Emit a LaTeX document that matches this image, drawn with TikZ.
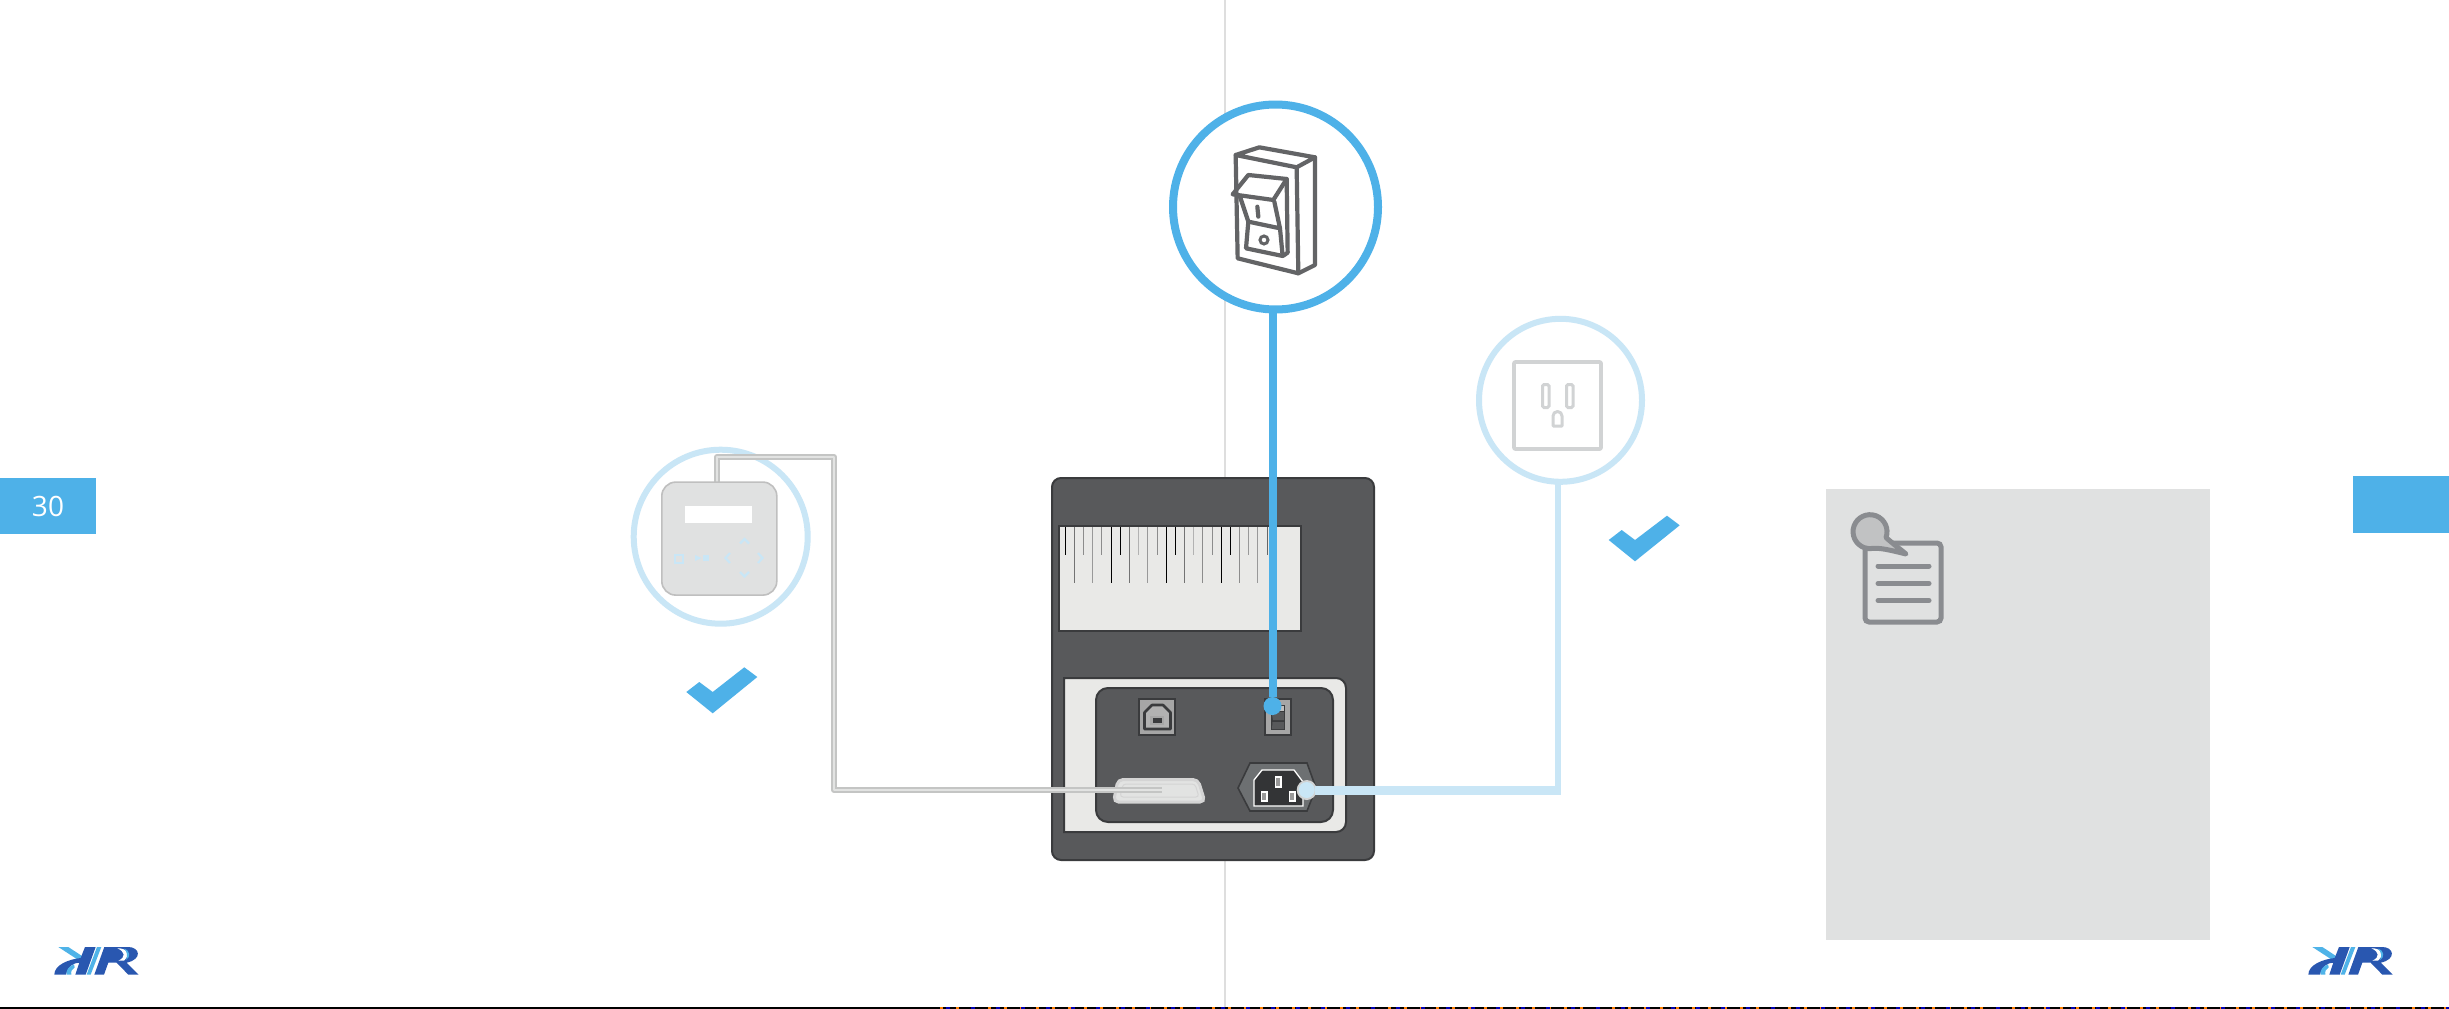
\documentclass[tikz,border=0pt]{standalone}
\usepackage{fontspec}
\setmainfont{Open Sans}
\definecolor{blu}{HTML}{4EB1E8}
\definecolor{lblu}{HTML}{C9E6F6}
\definecolor{body}{HTML}{58595B}
\definecolor{edge}{HTML}{3A3B3D}
\definecolor{pale}{HTML}{E9E9E7}
\definecolor{wireo}{HTML}{C4C5C4}
\definecolor{wirei}{HTML}{E2E3E2}
\definecolor{icon}{HTML}{636466}
\definecolor{out}{HTML}{D1D3D4}
\definecolor{notegr}{HTML}{E0E1E1}
\definecolor{notei}{HTML}{8A8C90}
\definecolor{ldark}{HTML}{2957B0}
\definecolor{llight}{HTML}{4FB3E8}
\definecolor{hexg}{HTML}{6D7072}
\definecolor{sock}{HTML}{333436}
\tikzset{
  ring/.style={circle,fill=white,inner sep=0pt,outer sep=0pt},
  plate/.style={draw=edge,line width=2pt},
  tabbox/.style={fill=blu,inner sep=0pt,outer sep=0pt,anchor=north west},
  tick/.style={line width=1pt},
  chev/.style={draw=lblu,line width=2.2pt},
  swline/.style={draw=icon,line width=4.2pt,line join=round,line cap=round},
  outl/.style={draw=out,line width=3.6pt,line join=round},
  notel/.style={draw=notei,line width=5pt,line cap=round},
}
\newcommand{\hklogo}[1]{%
\begin{scope}[shift={(#1,920)},x=0.3333pt,y=-0.3333pt]
  \fill[llight] (175,81) -- (205,81) -- (252,112) -- (238,122) -- cycle;
  \fill[llight] (291,81) -- (304,81) -- (272,164) -- (260,164) -- cycle;
  \fill[ldark] (255,81) -- (287,81) -- (257,164) -- (226,164) -- (238,128) .. controls (220,128) and (203,140) .. (198,164) -- (163,164) .. controls (163,135) and (205,118) .. (242,114) -- cycle;
  \fill[llight] (222,133) .. controls (205,140) and (197,152) .. (200,164) -- (214,164) .. controls (212,154) and (216,146) .. (224,142) -- cycle;
  \fill[ldark] (313,81) -- (385,81) .. controls (420,81) and (428,118) .. (380,128) -- (416,164) -- (385,164) -- (350,128) -- (325,128) -- (312,164) -- (283,164) -- cycle;
  \fill[white] (352,85) .. controls (378,84) and (396,100) .. (372,122) -- (355,122) .. controls (378,112) and (376,95) .. (352,85) -- cycle;
  \fill[llight] (372,86) .. controls (392,92) and (392,112) .. (378,120) .. controls (384,108) and (382,96) .. (372,86) -- cycle;
\end{scope}}
\begin{document}
\begin{tikzpicture}[x=1pt,y=-1pt]
\useasboundingbox (0,0) rectangle (2449,1009);
\fill[white] (0,0) rectangle (2449,1009);

% centre fold and bottom rule
\coordinate (foldT) at (1225,0);
\coordinate (foldB) at (1225,1007);
\draw[line width=1.5pt,draw=black!13] (foldT) -- (foldB);
\fill[black] (0,1007) rectangle (2449,1009);
\draw[line width=2pt,draw=orange,dash pattern=on 3pt off 13pt] (940,1008) -- (2449,1008);
\draw[line width=2pt,draw=blue!70!black,dash pattern=on 4pt off 21pt] (946,1008) -- (2449,1008);

% page tabs
\node[tabbox,minimum width=96pt,minimum height=56pt] (tabL) at (0,478) {};
\node[text=white,font=\fontsize{28}{28}\selectfont,inner sep=0pt] (pageno) at (48,506) {30};
\node[tabbox,minimum width=96pt,minimum height=57pt] (tabR) at (2353,476) {};

% note panel
\fill[notegr] (1826,489) rectangle (2210,940);
\draw[notei,line width=5pt,rounded corners=4pt] (1865,543) rectangle (1941,622);
\foreach \yy in {566,583.5,600.5}{\draw[notel] (1878,\yy) -- (1929,\yy);}
\draw[notei,line width=5pt,fill=out!80!gray,line join=round]
  (1886,537.5) arc[start angle=20,end angle=-280,radius=17]
  .. controls (1880,548) and (1886,549) .. (1906,554)
  .. controls (1900,549) and (1892,543) .. (1886,537.5) -- cycle;

% printer body
\draw[plate,fill=body,rounded corners=9pt] (1052,478) rectangle (1374,860);
\draw[plate,fill=pale] (1059,526) rectangle (1301,631);
\foreach \i/\c in {0/black,2/black!45,4/black!45,6/black,8/black!30,10/black!45,12/black,14/black!30,16/black!45,18/black,20/black!40,22/black!60}
  {\draw[tick,draw=\c] ({1065.3+9.17*\i},527) -- ({1065.3+9.17*\i},555);}
\foreach \i/\c in {1/black!55,3/black!40,5/black,7/black!55,9/black!40,11/black,13/black!55,15/black!45,17/black,19/black!45,21/black!40}
  {\draw[tick,draw=\c] ({1065.3+9.17*\i},527) -- ({1065.3+9.17*\i},583);}

\draw[plate,fill=pale] (1064,678) [rounded corners=10pt] -- (1346,678) -- (1346,832) [sharp corners] -- (1064,832) -- cycle;
\draw[plate,fill=body,rounded corners=12pt] (1096,688) rectangle (1333,822);

% USB port
\draw[plate,fill=black!35] (1139,699) rectangle (1175,735);
\draw[draw=edge,line width=2.6pt,fill=black!30,line join=round] (1144.5,712.5) -- (1152,705) -- (1163,705) -- (1170.5,712.5) -- (1170.5,729) -- (1144.5,729) -- cycle;
\fill[black!35] (1150,715.5) rectangle (1164,725);
\fill[edge] (1152.5,717.5) rectangle (1161.5,723);

% rocker in the panel
\draw[plate,fill=black!35] (1264.5,699) rectangle (1290.5,735);
\fill[edge] (1270.5,705) rectangle (1285,730);
\fill[black!25] (1278,706) rectangle (1284,711);
\fill[body] (1271.5,712) -- (1284,712) -- (1284,720) -- (1273,720) -- cycle;
\fill[body] (1272.5,722) -- (1284,722) -- (1284,729) -- (1272,729) -- cycle;

% mains inlet
\draw[draw=edge,line width=1.6pt,fill=hexg] (1238,788) -- (1250,763) -- (1307,763) -- (1316,788) -- (1307,811) -- (1250,811) -- cycle;
\draw[draw=white,line width=1.3pt,fill=sock] (1254,780) -- (1262,770) -- (1294,770) -- (1303,782) -- (1303,806) -- (1254,806) -- cycle;
\draw[draw=white,line width=1.2pt,fill=black!40] (1275.5,777) rectangle (1281,787);
\draw[draw=white,line width=1.2pt,fill=black!40] (1261.5,792) rectangle (1267,801);
\draw[draw=white,line width=1.2pt,fill=black!40] (1289.5,792) rectangle (1295,801);

% serial connector
\draw[draw=black!17,line width=3pt,fill=wirei,rounded corners=5pt] (1113.5,802) -- (1118,779.5) -- (1198,779.5) -- (1205,802) -- cycle;
\draw[draw=black!17,line width=1pt,rounded corners=3pt] (1120,797) -- (1123,784) -- (1195,784) -- (1199,797) -- cycle;

% call-out rings
\node[ring,minimum size=205pt,draw=blu,line width=8pt] (swc) at (1275.5,207) {};
\node[ring,minimum size=163pt,draw=lblu,line width=6pt] (outc) at (1560.5,400.3) {};
\node[ring,minimum size=174pt,draw=lblu,line width=6pt] (devc) at (720.7,536.7) {};

% connector ends
\coordinate (wA) at (717,484);
\coordinate (wB) at (717,457);
\coordinate (wC) at (834,457);
\coordinate (wD) at (834,790);
\coordinate (wE) at (1162,790);
\draw[draw=wireo,line width=6pt,line join=round] (wA) -- (wB) -- (wC) -- (wD) -- (wE);
\draw[draw=wirei,line width=2pt,line join=round] (wA) -- (wB) -- (wC) -- (wD) -- (wE);

% remote device
\node[draw=black!25,line width=1.6pt,fill=notegr,rounded corners=14pt,minimum width=115pt,minimum height=113pt,inner sep=0pt,outer sep=0pt] (dev) at (719.3,538.6) {};
\fill[white] (685,506) rectangle (752,522.7);
\draw[chev,line width=2pt] (674.5,555) rectangle (683,562.5);
\fill[lblu] (695,555) -- (701.5,558) -- (695,561) -- cycle;
\fill[lblu] (703.3,555) rectangle (709.3,561);
\draw[chev] (740,543.5) -- (744.5,539) -- (749,543.5);
\draw[chev] (740,572) -- (744.5,576.5) -- (749,572);
\draw[chev] (730,553) -- (725.5,558) -- (730,563);
\draw[chev] (758,553) -- (762.5,558) -- (758,563);

% switch icon
\begin{scope}[shift={(1140,80)},x=0.3333pt,y=-0.3333pt]
  \draw[swline] (287,225) -- (358,202) -- (525,232) -- (470,262) -- cycle;
  \draw[swline] (287,225) -- (293,535) -- (475,580) -- (470,262);
  \draw[swline] (525,232) -- (525,555) -- (475,580);
  \fill[white] (300,290) rectangle (440,440);
  \draw[swline] (278,343) -- (325,285) -- (440,297) -- (400,360) -- cycle;
  \draw[swline] (300,350) -- (325,425) -- (420,445) -- (403,365);
  \draw[swline] (440,297) -- (443,518) -- (430,527);
  \draw[swline] (325,425) -- (318,505) -- (428,528) -- (420,445);
  \draw[swline] (352,380) -- (355,410);
  \draw[draw=icon,line width=3pt] (372,480) circle (12);
\end{scope}

% wall outlet
\draw[outl,rounded corners=1pt] (1514,362) rectangle (1601,449);
\draw[draw=out,line width=3pt,rounded corners=1.5pt] (1542.5,384.5) rectangle (1549,407.5);
\draw[draw=out,line width=3pt,rounded corners=1.5pt] (1566.5,384.5) rectangle (1573,407.5);
\draw[draw=out,line width=3pt,line join=round,fill=white] (1553,426) -- (1553,416) arc[start angle=180,end angle=360,radius=4.5] -- (1562,426) -- cycle;

% connector dots and lines
\node[circle,fill=blu,minimum size=18pt,inner sep=0pt,outer sep=0pt] (swd) at (1272.5,706) {};
\draw[draw=blu,line width=8pt] (swd) -- (swd |- swc.south);
\node[circle,fill=out,minimum size=20pt,inner sep=0pt,outer sep=0pt] (ph) at (1306.7,790) {};
\node[circle,fill=lblu,minimum size=16pt,inner sep=0pt,outer sep=0pt] (ind) at (1306.7,790) {};
\coordinate (oA) at (1558.3,790);
\draw[draw=lblu,line width=6pt] (outc.south -| oA) -- (oA);
\draw[draw=lblu,line width=9pt] (ind) -- (1561.3,790);

% check marks
\fill[blu] (686.3,692) -- (699.3,682) -- (712.7,692) -- (744.3,667.3) -- (757.3,677) -- (712.7,713.3) -- cycle;
\fill[blu] (1608.7,540) -- (1621.7,530) -- (1635,540) -- (1667,515.7) -- (1679.7,525.3) -- (1635,561.3) -- cycle;

% logos
\hklogo{0}
\hklogo{2254}
\end{tikzpicture}
\end{document}
